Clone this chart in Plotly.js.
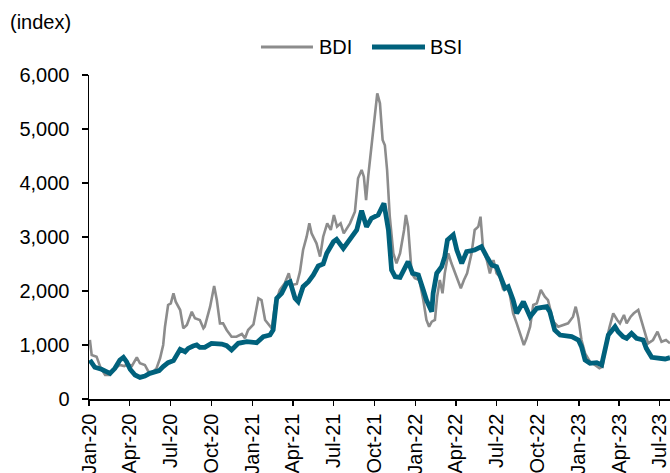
<!DOCTYPE html>
<html>
<head>
<meta charset="utf-8">
<script src="https://cdn.plot.ly/plotly-3.0.1.min.js"></script>
<style>
  html, body { margin: 0; padding: 0; background: #fff; }
  #chart { width: 670px; height: 473px; }
</style>
</head>
<body>
<div id="chart"></div>
<script>
// BDI (Baltic Dry Index)
const bdiDates = ["2020-01-03","2020-01-07","2020-01-18","2020-01-26","2020-02-06","2020-02-17","2020-02-28","2020-03-10","2020-03-20","2020-03-29","2020-04-06","2020-04-17","2020-04-24","2020-05-05","2020-05-13","2020-05-20","2020-05-31","2020-06-08","2020-06-15","2020-06-19","2020-06-26","2020-07-02","2020-07-08","2020-07-13","2020-07-23","2020-07-30","2020-08-07","2020-08-18","2020-08-25","2020-09-05","2020-09-13","2020-09-16","2020-09-28","2020-10-07","2020-10-13","2020-10-20","2020-10-27","2020-11-04","2020-11-15","2020-11-26","2020-12-08","2020-12-15","2020-12-22","2021-01-03","2021-01-14","2021-01-21","2021-01-29","2021-02-13","2021-02-20","2021-03-03","2021-03-14","2021-03-23","2021-03-29","2021-04-10","2021-04-17","2021-04-24","2021-05-02","2021-05-08","2021-05-13","2021-05-24","2021-06-01","2021-06-08","2021-06-17","2021-06-25","2021-07-02","2021-07-09","2021-07-17","2021-07-24","2021-08-07","2021-08-18","2021-08-25","2021-09-02","2021-09-07","2021-09-12","2021-09-17","2021-09-24","2021-10-02","2021-10-07","2021-10-13","2021-10-19","2021-10-24","2021-10-29","2021-11-04","2021-11-12","2021-11-19","2021-11-27","2021-12-06","2021-12-10","2021-12-15","2021-12-23","2021-12-30","2022-01-09","2022-01-18","2022-01-25","2022-01-31","2022-02-06","2022-02-13","2022-02-18","2022-02-24","2022-03-02","2022-03-07","2022-03-15","2022-03-22","2022-03-30","2022-04-06","2022-04-12","2022-04-19","2022-04-26","2022-05-06","2022-05-13","2022-05-21","2022-05-26","2022-06-01","2022-06-09","2022-06-16","2022-06-24","2022-07-01","2022-07-08","2022-07-16","2022-07-23","2022-07-30","2022-08-07","2022-08-15","2022-08-22","2022-08-31","2022-09-06","2022-09-14","2022-09-21","2022-09-29","2022-10-08","2022-10-17","2022-10-24","2022-11-05","2022-11-16","2022-11-27","2022-12-08","2022-12-19","2022-12-25","2022-12-31","2023-01-07","2023-01-15","2023-01-26","2023-02-06","2023-02-16","2023-02-23","2023-03-04","2023-03-11","2023-03-19","2023-03-28","2023-04-03","2023-04-12","2023-04-18","2023-04-27","2023-05-04","2023-05-14","2023-05-21","2023-05-29","2023-06-05","2023-06-16","2023-06-26","2023-07-05","2023-07-15","2023-07-24"];
const bdiValues = [1093,815,784,599,444,444,568,630,611,648,611,772,661,630,506,475,568,754,1000,1339,1741,1772,1957,1802,1648,1309,1370,1617,1494,1463,1309,1339,1709,2093,1833,1401,1401,1278,1154,1154,1204,1124,1278,1383,1865,1833,1463,1309,1741,2019,2142,2327,2111,2130,2358,2759,3006,3253,3068,2883,2636,3006,3253,3130,3407,3191,3253,3068,3253,3469,4087,4241,4117,3685,4148,4672,5198,5661,5476,4796,4700,4241,3376,2698,2513,2698,3130,3407,3191,2327,2235,2204,1833,1463,1339,1432,1463,1895,2204,1957,2327,2698,2513,2327,2204,2050,2204,2327,2698,3130,3191,3376,2759,2574,2327,2574,2327,2265,2019,2080,1957,1587,1401,1216,1000,1124,1339,1741,1772,2019,1895,1833,1432,1339,1370,1401,1524,1709,1494,1093,846,691,630,568,599,1093,1339,1587,1463,1401,1556,1401,1524,1587,1648,1463,1216,1031,1093,1246,1061,1093,1031];

// BSI (Baltic Supramax Index)
const bsiDates = ["2020-01-03","2020-01-14","2020-01-29","2020-02-10","2020-02-17","2020-02-28","2020-03-10","2020-03-18","2020-03-25","2020-04-02","2020-04-13","2020-04-24","2020-05-05","2020-05-16","2020-05-28","2020-06-06","2020-06-15","2020-06-26","2020-07-08","2020-07-15","2020-07-23","2020-08-03","2020-08-10","2020-08-21","2020-08-29","2020-09-05","2020-09-16","2020-10-01","2020-10-24","2020-11-04","2020-11-15","2020-11-30","2020-12-19","2021-01-10","2021-01-25","2021-02-09","2021-02-16","2021-02-24","2021-03-07","2021-03-18","2021-03-26","2021-04-06","2021-04-13","2021-04-24","2021-05-06","2021-05-17","2021-05-28","2021-06-08","2021-06-16","2021-07-01","2021-07-08","2021-07-23","2021-08-07","2021-08-22","2021-09-02","2021-09-13","2021-09-24","2021-10-09","2021-10-22","2021-11-01","2021-11-08","2021-11-16","2021-11-27","2021-12-08","2021-12-15","2021-12-25","2022-01-07","2022-01-18","2022-01-25","2022-02-06","2022-02-09","2022-02-17","2022-02-28","2022-03-07","2022-03-13","2022-03-26","2022-04-03","2022-04-14","2022-04-25","2022-05-13","2022-05-28","2022-06-09","2022-06-20","2022-07-01","2022-07-12","2022-07-20","2022-07-27","2022-08-07","2022-08-15","2022-08-30","2022-09-14","2022-09-29","2022-10-21","2022-10-28","2022-11-08","2022-11-20","2022-12-16","2022-12-31","2023-01-07","2023-01-15","2023-01-26","2023-02-10","2023-02-21","2023-02-28","2023-03-08","2023-03-23","2023-03-30","2023-04-10","2023-04-18","2023-04-29","2023-05-10","2023-05-25","2023-06-01","2023-06-13","2023-06-28","2023-07-13","2023-07-24"];
const bsiValues = [722,587,550,506,475,568,722,772,691,550,444,401,426,475,506,525,599,673,710,815,920,876,938,981,1000,957,957,1031,1018,987,907,1031,1061,1043,1154,1185,1278,1865,1957,2142,2172,1865,1802,2080,2172,2296,2463,2500,2698,2913,2957,2790,2944,3130,3487,3191,3346,3407,3624,3130,2389,2265,2253,2420,2543,2327,2296,2019,1833,1617,1957,2327,2450,2636,2944,3037,2759,2513,2728,2759,2820,2636,2481,2450,2204,2050,2080,1833,1587,1802,1524,1679,1709,1617,1278,1185,1154,1093,969,722,661,673,630,907,1185,1339,1246,1154,1124,1216,1124,1093,938,772,754,741,765];

const seriesNames = ["BDI", "BSI"];
const seriesColors = ["#8c8c8c", "#00617c"];
const yTitle = "(index)";

const FONT = "Liberation Sans, Arial, sans-serif";
const FS = 20;

const traces = [
  {
    x: bdiDates, y: bdiValues, name: seriesNames[0], type: "scatter", mode: "lines",
    line: { color: seriesColors[0], width: 2.6 }
  },
  {
    x: bsiDates, y: bsiValues, name: seriesNames[1], type: "scatter", mode: "lines",
    line: { color: seriesColors[1], width: 4.8 }
  }
];

// legend drawn as shapes + text (paper coordinates)
const legY = 1.0864;
const shapes = [
  { type: "line", xref: "paper", yref: "paper", x0: 0.296, x1: 0.3855, y0: legY, y1: legY,
    line: { color: seriesColors[0], width: 2.8 } },
  { type: "line", xref: "paper", yref: "paper", x0: 0.4871, x1: 0.5783, y0: legY, y1: legY,
    line: { color: seriesColors[1], width: 4.8 } }
];

const layout = {
  width: 670, height: 473,
  margin: { l: 89, r: 0, t: 75, b: 74 },
  paper_bgcolor: "#ffffff", plot_bgcolor: "#ffffff",
  font: { family: FONT, size: FS, color: "#000000" },
  showlegend: false,
  xaxis: {
    type: "date",
    range: ["2020-01-01", "2023-07-24"],
    tick0: "2020-01-01", dtick: "M3", tickformat: "%b-%y",
    tickangle: -90, ticks: "outside", ticklen: 5, tickwidth: 1.5, tickcolor: "#000",
    showline: true, linecolor: "#000", linewidth: 1.5,
    showgrid: false, zeroline: false,
    ticklabeloverflow: "allow",
    tickfont: { family: FONT, size: FS, color: "#000" }
  },
  yaxis: {
    range: [0, 6000], dtick: 1000, tickformat: ",",
    ticks: "outside", ticklen: 6, tickwidth: 1.5, tickcolor: "#000",
    showline: true, linecolor: "#000", linewidth: 1.5,
    showgrid: false, zeroline: false,
    ticklabelstandoff: 8,
    tickfont: { family: FONT, size: FS, color: "#000" }
  },
  shapes: shapes,
  annotations: [
    { text: yTitle, xref: "paper", yref: "paper", x: -0.1394, y: 1.1636, xanchor: "left", yanchor: "middle",
      showarrow: false, font: { family: FONT, size: FS, color: "#000" } },
    { text: seriesNames[0], xref: "paper", yref: "paper", x: 0.3924, y: legY, xanchor: "left", yanchor: "middle",
      showarrow: false, font: { family: FONT, size: FS, color: "#000" } },
    { text: seriesNames[1], xref: "paper", yref: "paper", x: 0.5835, y: legY, xanchor: "left", yanchor: "middle",
      showarrow: false, font: { family: FONT, size: FS, color: "#000" } }
  ]
};

Plotly.newPlot("chart", traces, layout, { displayModeBar: false, staticPlot: true });
</script>
</body>
</html>
